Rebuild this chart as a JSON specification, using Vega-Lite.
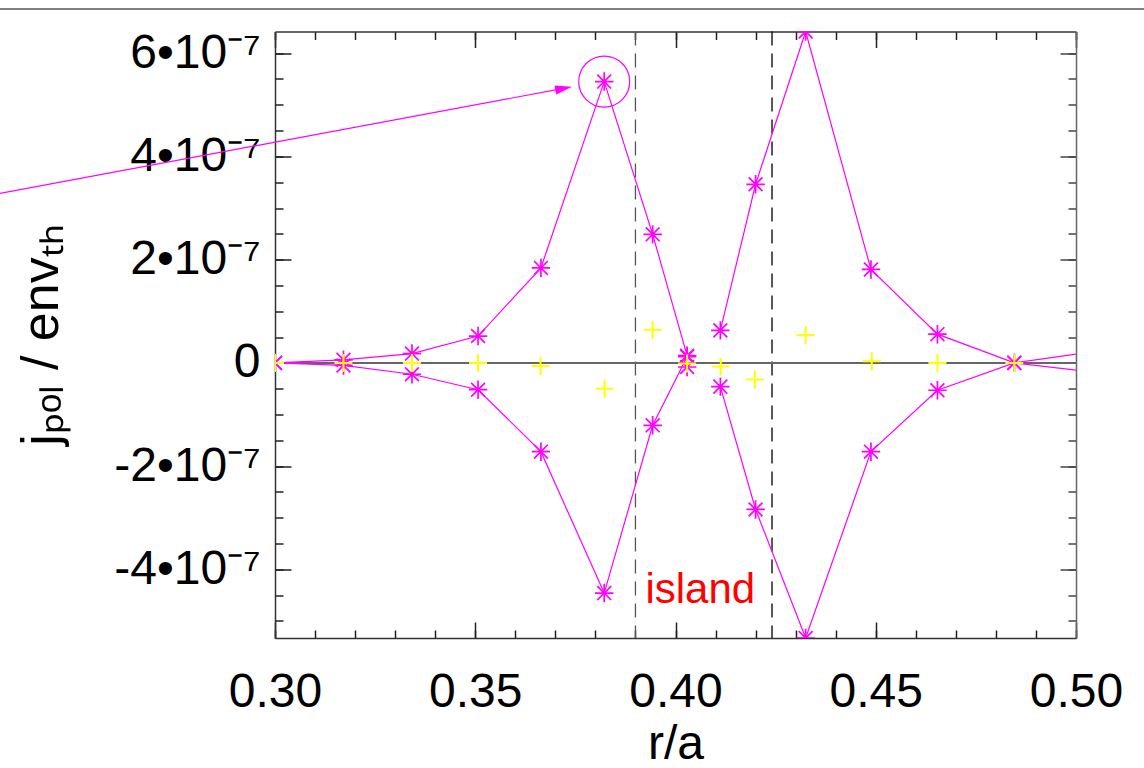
{
  "$schema": "https://vega.github.io/schema/vega-lite/v6.json",
  "width": 801,
  "height": 606.5,
  "autosize": "none",
  "padding": {"left": 275, "top": 31.5, "right": 68, "bottom": 130},
  "background": "white",
  "config": {
    "view": {"stroke": null},
    "font": "Liberation Sans",
    "axis": {
      "grid": false,
      "labelFont": "Liberation Sans",
      "labelFontSize": 48,
      "labelColor": "#000000",
      "labelOverlap": false,
      "labelFlush": false,
      "labelBound": false,
      "tickColor": "#222222",
      "tickWidth": 1.5,
      "domainColor": "#333333",
      "domainWidth": 1.5,
      "titleFont": "Liberation Sans",
      "titleFontWeight": "normal",
      "titleColor": "#000000"
    }
  },
  "datasets": {
    "curves": [
      {"branch": "upper_in", "r": 0.3000, "j": 0.0},
      {"branch": "upper_in", "r": 0.3171, "j": 0.06e-7},
      {"branch": "upper_in", "r": 0.3342, "j": 0.18e-7},
      {"branch": "upper_in", "r": 0.3507, "j": 0.52e-7},
      {"branch": "upper_in", "r": 0.3664, "j": 1.84e-7},
      {"branch": "upper_in", "r": 0.3822, "j": 5.45e-7},
      {"branch": "upper_in", "r": 0.3943, "j": 2.49e-7},
      {"branch": "upper_in", "r": 0.4029, "j": 0.14e-7},
      {"branch": "lower_in", "r": 0.3000, "j": 0.0},
      {"branch": "lower_in", "r": 0.3171, "j": -0.05e-7},
      {"branch": "lower_in", "r": 0.3342, "j": -0.22e-7},
      {"branch": "lower_in", "r": 0.3507, "j": -0.52e-7},
      {"branch": "lower_in", "r": 0.3664, "j": -1.72e-7},
      {"branch": "lower_in", "r": 0.3822, "j": -4.46e-7},
      {"branch": "lower_in", "r": 0.3943, "j": -1.21e-7},
      {"branch": "lower_in", "r": 0.4029, "j": 0.12e-7},
      {"branch": "single", "r": 0.4029, "j": -0.08e-7},
      {"branch": "upper_out", "r": 0.4112, "j": 0.63e-7},
      {"branch": "upper_out", "r": 0.4200, "j": 3.46e-7},
      {"branch": "upper_out", "r": 0.4325, "j": 6.42e-7},
      {"branch": "upper_out", "r": 0.4488, "j": 1.81e-7},
      {"branch": "upper_out", "r": 0.4654, "j": 0.556e-7},
      {"branch": "upper_out", "r": 0.4846, "j": 0.0},
      {"branch": "upper_out", "r": 0.5035, "j": 0.21e-7},
      {"branch": "lower_out", "r": 0.4112, "j": -0.46e-7},
      {"branch": "lower_out", "r": 0.4200, "j": -2.84e-7},
      {"branch": "lower_out", "r": 0.4325, "j": -5.33e-7},
      {"branch": "lower_out", "r": 0.4488, "j": -1.72e-7},
      {"branch": "lower_out", "r": 0.4654, "j": -0.53e-7},
      {"branch": "lower_out", "r": 0.4846, "j": 0.0},
      {"branch": "lower_out", "r": 0.5035, "j": -0.17e-7}
    ],
    "plus": [
      {"r": 0.3000, "j": 0.0},
      {"r": 0.3171, "j": 0.0},
      {"r": 0.3342, "j": 0.0},
      {"r": 0.3507, "j": 0.0},
      {"r": 0.3663, "j": -0.06e-7},
      {"r": 0.3823, "j": -0.50e-7},
      {"r": 0.3943, "j": 0.64e-7},
      {"r": 0.4029, "j": -0.01e-7},
      {"r": 0.4113, "j": -0.07e-7},
      {"r": 0.4198, "j": -0.32e-7},
      {"r": 0.4325, "j": 0.54e-7},
      {"r": 0.4490, "j": 0.03e-7},
      {"r": 0.4654, "j": 0.0},
      {"r": 0.4846, "j": 0.0}
    ],
    "island": [
      {"edge": "inner", "r": 0.3900},
      {"edge": "outer", "r": 0.4241}
    ]
  },
  "layer": [
    {
      "data": {"name": "island"},
      "mark": {"type": "rule", "strokeDash": [14, 8], "strokeWidth": 1.3},
      "encoding": {
        "x": {"field": "r", "type": "quantitative", "scale": {"domain": [0.3, 0.5], "nice": false, "zero": false}, "axis": null},
        "color": {"field": "edge", "type": "nominal", "scale": {"domain": ["inner", "outer"], "range": ["#555555", "#000000"]}, "legend": null}
      }
    },
    {
      "data": {"values": [{}]},
      "mark": {"type": "rule", "color": "#666666", "strokeWidth": 2, "clip": true},
      "encoding": {
        "x": {"datum": 0.3, "type": "quantitative", "axis": {"orient": "top", "values": [0.30,0.31,0.32,0.33,0.34,0.35,0.36,0.37,0.38,0.39,0.40,0.41,0.42,0.43,0.44,0.45,0.46,0.47,0.48,0.49,0.50], "labels": false, "domain": false, "tickSize": -8, "title": null}},
        "x2": {"datum": 0.5},
        "y": {"datum": 0, "type": "quantitative", "axis": {"orient": "right", "values": [-5e-7,-4.5e-7,-4e-7,-3.5e-7,-3e-7,-2.5e-7,-2e-7,-1.5e-7,-1e-7,-5e-8,0,5e-8,1e-7,1.5e-7,2e-7,2.5e-7,3e-7,3.5e-7,4e-7,4.5e-7,5e-7,5.5e-7,6e-7], "labels": false, "domain": false, "tickSize": -8, "tickColor": "#444444", "title": null}}
      }
    },
    {
      "data": {"name": "curves"},
      "mark": {"type": "line", "color": "#FF00FF", "strokeWidth": 1.2, "clip": true},
      "encoding": {
        "x": {"field": "r", "type": "quantitative", "scale": {"domain": [0.3, 0.5], "nice": false, "zero": false},
          "axis": {"orient": "bottom", "values": [0.30, 0.35, 0.40, 0.45, 0.50], "format": ".2f", "tickSize": -16, "labelPadding": 46, "title": "r/a", "titleFontSize": 48, "titleY": 120, "titleBaseline": "alphabetic"}},
        "y": {"field": "j", "type": "quantitative", "scale": {"domain": [-5.33e-7, 6.42e-7], "nice": false, "zero": false},
          "axis": {"orient": "left", "values": [-4e-7, -2e-7, 0, 2e-7, 4e-7, 6e-7], "labelExpr": "datum.value == 0 ? '0' : round(datum.value * 1e7) + '•10⁻⁷'", "labelBaseline": "middle", "tickSize": -16, "labelPadding": 31, "title": "jₚₒₗ / envₜₕ", "titleFontSize": 52, "titleX": -218, "titleY": 303, "titleAngle": -90, "titleBaseline": "alphabetic", "titleAlign": "center"}},
        "detail": {"field": "branch", "type": "nominal"}
      }
    },
    {
      "data": {"name": "curves"},
      "mark": {"type": "point", "shape": "M-1,0L1,0M0,-1L0,1M-0.75,-0.75L0.75,0.75M-0.75,0.75L0.75,-0.75", "size": 340, "filled": false, "color": "#FF00FF", "strokeWidth": 1.7, "opacity": 1, "clip": true},
      "encoding": {
        "x": {"field": "r", "type": "quantitative", "axis": {"orient": "top", "values": [0.30, 0.35, 0.40, 0.45, 0.50], "labels": false, "tickSize": -16, "title": null}},
        "y": {"field": "j", "type": "quantitative", "axis": {"orient": "right", "values": [-4e-7, -2e-7, 0, 2e-7, 4e-7, 6e-7], "labels": false, "tickSize": -16, "tickColor": "#444444", "domainColor": "#666666", "title": null}}
      }
    },
    {
      "data": {"name": "plus"},
      "mark": {"type": "point", "shape": "M-1,0L1,0M0,-1L0,1", "size": 324, "filled": false, "color": "#FFFF00", "strokeWidth": 2, "opacity": 1, "clip": true},
      "encoding": {
        "x": {"field": "r", "type": "quantitative", "axis": {"orient": "bottom", "values": [0.30,0.31,0.32,0.33,0.34,0.35,0.36,0.37,0.38,0.39,0.40,0.41,0.42,0.43,0.44,0.45,0.46,0.47,0.48,0.49,0.50], "labels": false, "domain": false, "tickSize": -8, "title": null}},
        "y": {"field": "j", "type": "quantitative", "axis": {"orient": "left", "values": [-5e-7,-4.5e-7,-4e-7,-3.5e-7,-3e-7,-2.5e-7,-2e-7,-1.5e-7,-1e-7,-5e-8,0,5e-8,1e-7,1.5e-7,2e-7,2.5e-7,3e-7,3.5e-7,4e-7,4.5e-7,5e-7,5.5e-7,6e-7], "labels": false, "domain": false, "tickSize": -8, "title": null}}
      }
    },
    {
      "data": {"values": [{}]},
      "mark": {"type": "point", "shape": "circle", "size": 2601, "filled": false, "color": "#FF00FF", "strokeWidth": 1.2, "opacity": 1},
      "encoding": {
        "x": {"datum": 0.3822, "type": "quantitative", "axis": null},
        "y": {"datum": 5.45e-7, "type": "quantitative", "axis": null}
      }
    },
    {
      "data": {"values": [{}]},
      "mark": {"type": "rule", "color": "#FF00FF", "strokeWidth": 1.2, "clip": false},
      "encoding": {
        "x": {"datum": 0.23125, "type": "quantitative", "axis": null},
        "x2": {"datum": 0.37208},
        "y": {"datum": 3.283e-7, "type": "quantitative", "axis": null},
        "y2": {"datum": 5.318e-7}
      }
    },
    {
      "data": {"values": [{}]},
      "mark": {"type": "point", "shape": "M1,0L-1,-0.55L-1,0.55Z", "size": 289, "filled": true, "color": "#FF00FF", "opacity": 1, "angle": -10.8, "strokeWidth": 0},
      "encoding": {
        "x": {"datum": 0.37208, "type": "quantitative", "axis": null},
        "y": {"datum": 5.318e-7, "type": "quantitative", "axis": null}
      }
    },
    {
      "data": {"values": [{}]},
      "mark": {"type": "text", "text": "island", "color": "#FF0000", "fontSize": 42, "font": "Liberation Sans", "align": "left", "baseline": "alphabetic"},
      "encoding": {
        "x": {"datum": 0.3925, "type": "quantitative", "axis": null},
        "y": {"datum": -4.66e-7, "type": "quantitative", "axis": null}
      }
    },
    {
      "data": {"values": [{}]},
      "mark": {"type": "rule", "color": "#808080", "strokeWidth": 2, "clip": false},
      "encoding": {
        "x": {"datum": 0.23125, "type": "quantitative", "axis": null},
        "x2": {"datum": 0.51725},
        "y": {"datum": 6.855e-7, "type": "quantitative", "axis": null}
      }
    }
  ],
  "resolve": {
    "scale": {"x": "shared", "y": "shared", "color": "independent"},
    "axis": {"x": "independent", "y": "independent"}
  }
}
